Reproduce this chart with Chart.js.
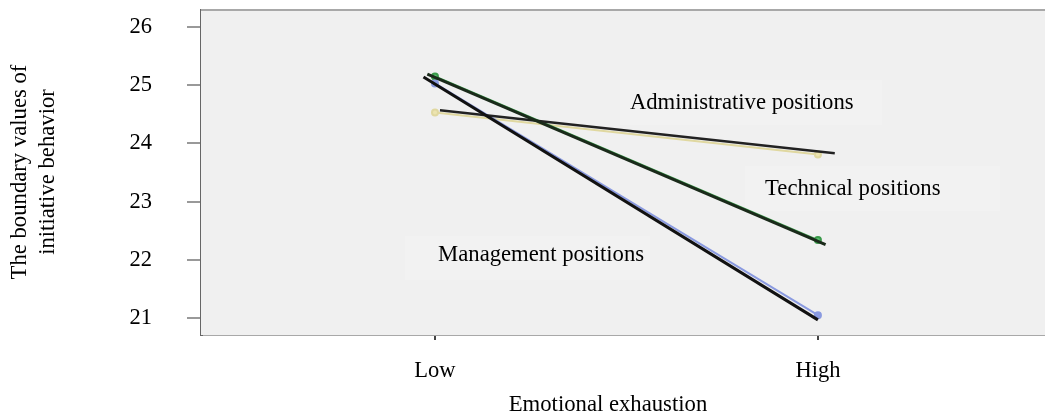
<!DOCTYPE html>
<html><head><meta charset="utf-8">
<script src="https://cdn.jsdelivr.net/npm/chart.js@4.4.1/dist/chart.umd.min.js"></script>
<style>html,body{margin:0;padding:0;background:#fff;overflow:hidden}#w{width:1045px;height:419px}</style>
</head><body><div id="w"><canvas id="c"></canvas></div>
<script>
const categories = ['Low', 'High'];
const yTicks = [21, 22, 23, 24, 25, 26];
const management = [25.03, 21.05];
const technical = [25.15, 22.34];
const administrative = [24.53, 23.81];
const managementFit = [25.14, 20.97];
const technicalFit = [25.19, 22.26];
const administrativeFit = [24.57, 23.83];
const managementFitX = [-0.03, 1.0];
const technicalFitX = [-0.02, 1.02];
const administrativeFitX = [0.013, 1.044];
const labels = [
  {text: 'Administrative positions', x: 0.509, y: 24.69},
  {text: 'Technical positions', x: 0.862, y: 23.21},
  {text: 'Management positions', x: 0.008, y: 22.09}
];
const SERIF = '"Liberation Serif", "Times New Roman", serif';

const pts = (xs, ys) => ys.map((v, i) => ({x: xs[i], y: v}));
const catX = [0, 1];

const deco = {
  id: 'deco',
  beforeDatasetsDraw(chart) {
    const {ctx, chartArea: a} = chart;
    ctx.save();
    ctx.fillStyle = '#f0f0f0';
    ctx.fillRect(a.left, a.top, a.right - a.left, a.bottom - a.top);
    ctx.fillStyle = '#f2f2f2';
    ctx.fillRect(620, 80, 262, 45);
    ctx.fillRect(745, 166, 255, 45);
    ctx.fillRect(405, 236, 245, 44);
    ctx.strokeStyle = '#a8a8a8';
    ctx.lineWidth = 2;
    ctx.beginPath(); ctx.moveTo(a.left, a.top); ctx.lineTo(a.right, a.top); ctx.stroke();
    ctx.restore();
  },
  afterDatasetsDraw(chart) {
    const {ctx, scales: {x, y}} = chart;
    ctx.save();
    ctx.fillStyle = '#000';
    ctx.font = '22.7px ' + SERIF;
    ctx.textBaseline = 'middle';
    ctx.textAlign = 'left';
    labels.forEach(l => ctx.fillText(l.text, x.getPixelForValue(l.x), y.getPixelForValue(l.y)));
    ctx.textAlign = 'center';
    ctx.fillText('Emotional exhaustion', 608, 405);
    ctx.translate(0, 172);
    ctx.rotate(-Math.PI / 2);
    ctx.fillText('The boundary values of', 0, 20);
    ctx.fillText('initiative behavior', 0, 48);
    ctx.restore();
  }
};

new Chart(document.getElementById('c'), {
  type: 'line',
  data: {
    datasets: [
      {data: pts(managementFitX, managementFit), borderColor: '#111', borderWidth: 3, pointRadius: 0, order: 0},
      {data: pts(technicalFitX, technicalFit), borderColor: '#1a2a1a', borderWidth: 3, pointRadius: 0, order: 0},
      {data: pts(administrativeFitX, administrativeFit), borderColor: '#222', borderWidth: 2.5, pointRadius: 0, order: 0},
      {data: pts(catX, management), borderColor: '#8a9ae0', backgroundColor: '#8a9ae0', borderWidth: 2, pointRadius: 3, order: 1},
      {data: pts(catX, technical), borderColor: '#3a9a4a', backgroundColor: '#5ac070', borderWidth: 2, pointRadius: 3, order: 1},
      {data: pts(catX, administrative), borderColor: '#e0d8a0', backgroundColor: '#ece4b0', borderWidth: 2, pointRadius: 3, order: 1}
    ]
  },
  options: {
    responsive: true, maintainAspectRatio: false, animation: false,
    layout: {autoPadding: false, padding: {top: 10, right: 0, left: 0, bottom: 0}},
    plugins: {legend: {display: false}, tooltip: {enabled: false}},
    scales: {
      x: {
        type: 'linear', min: -0.611, max: 1.593,
        afterBuildTicks: s => { s.ticks = catX.map(v => ({value: v})); },
        afterFit: s => { s.height = 84; s.paddingLeft = 0; s.paddingRight = 0; },
        ticks: {callback: v => categories[v], color: '#000', font: {family: SERIF, size: 22.5}, padding: 18, maxRotation: 0},
        grid: {drawOnChartArea: false, tickLength: 5, color: '#444', lineWidth: 2},
        border: {color: '#a8a8a8', width: 2}
      },
      y: {
        min: 20.71, max: 26.29,
        afterBuildTicks: s => { s.ticks = yTicks.map(v => ({value: v})); },
        afterFit: s => { s.width = 201; s.paddingTop = 0; s.paddingBottom = 0; },
        ticks: {color: '#000', font: {family: SERIF, size: 22.5}, padding: 35},
        grid: {drawOnChartArea: false, tickLength: 14, color: '#999', lineWidth: 2},
        border: {color: '#666', width: 3}
      }
    }
  },
  plugins: [deco]
});
</script></body></html>
